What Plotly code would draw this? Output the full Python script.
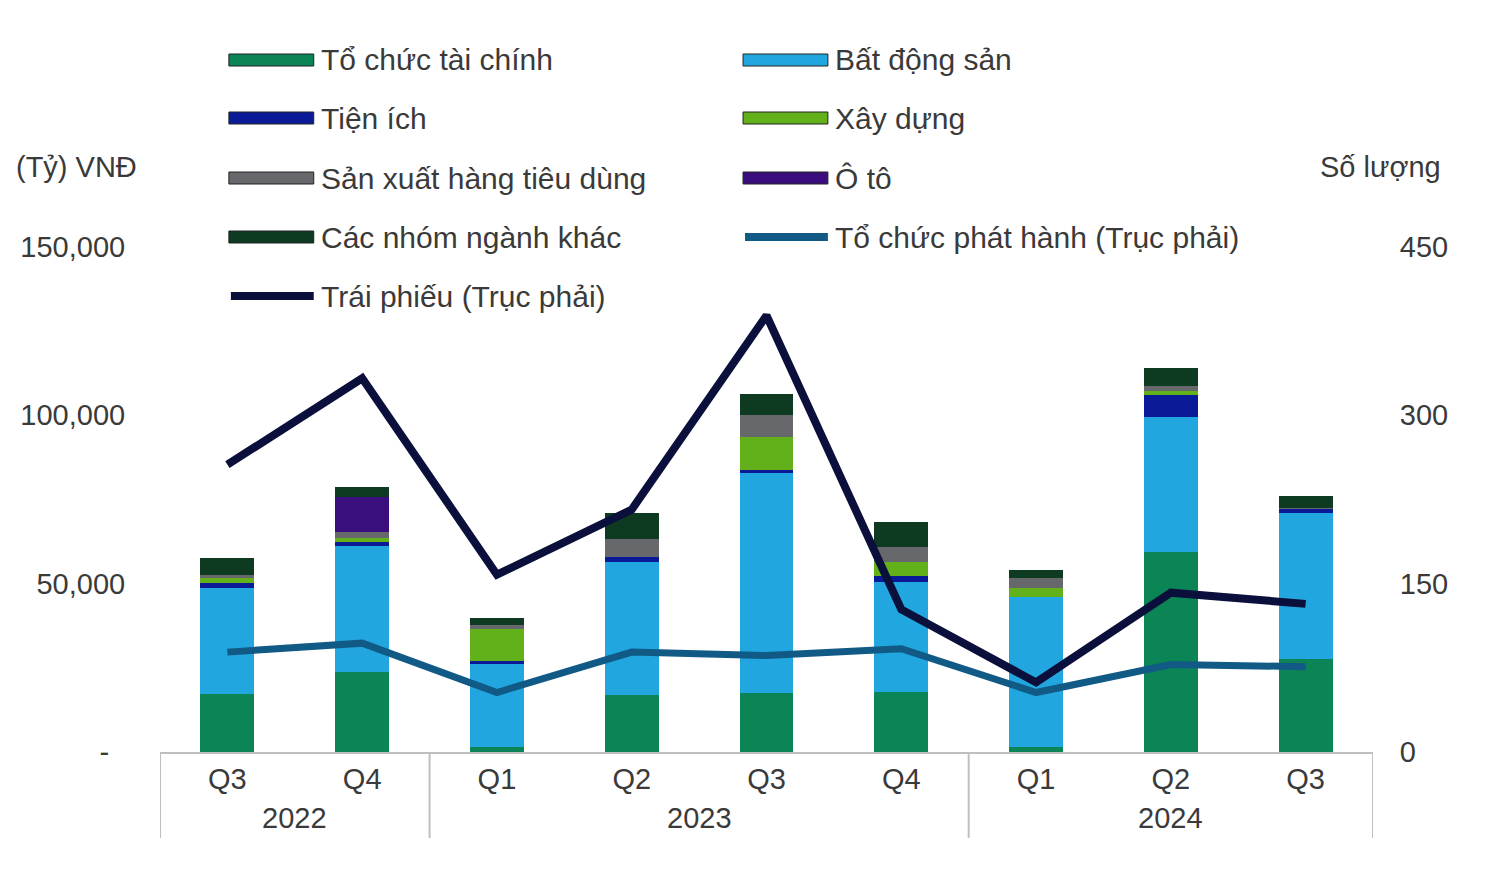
import plotly.graph_objects as go

# Dữ liệu (ước lượng từ hình)
periods = ["Q3 2022", "Q4 2022", "Q1 2023", "Q2 2023", "Q3 2023", "Q4 2023", "Q1 2024", "Q2 2024", "Q3 2024"]
quarters = ["Q3", "Q4", "Q1", "Q2", "Q3", "Q4", "Q1", "Q2", "Q3"]
year_labels = ["2022", "2023", "2024"]
year_spans = [(0, 1), (2, 5), (6, 8)]

to_chuc_tai_chinh = [17200, 23800, 1500, 16900, 17500, 17800, 1500, 59400, 27600]
bat_dong_san = [31500, 37400, 24700, 39500, 65300, 32700, 44600, 40100, 43400]
tien_ich = [1500, 1200, 900, 1500, 900, 1800, 0, 6500, 1200]
xay_dung = [1500, 1200, 9500, 0, 9800, 4200, 2700, 1200, 0]
san_xuat_htd = [900, 1800, 1200, 5300, 6500, 4500, 3000, 1500, 300]
o_to = [0, 10400, 0, 0, 0, 0, 0, 0, 0]
nganh_khac = [5000, 3000, 2000, 7700, 6200, 7400, 2400, 5300, 3600]

to_chuc_phat_hanh = [89, 97, 53, 89, 86, 92, 53, 78, 76]
trai_phieu = [256, 333, 158, 216, 389, 127, 62, 142, 132]

y_tickvals = [0, 50000, 100000, 150000]
y_ticktext = ["-\u00a0\u00a0", "50,000", "100,000", "150,000"]
y2_tickvals = [0, 150, 300, 450]

bar_series = [
    ("Tổ chức tài chính", to_chuc_tai_chinh, "#0B8456"),
    ("Bất động sản", bat_dong_san, "#22A6DF"),
    ("Tiện ích", tien_ich, "#0A1A96"),
    ("Xây dựng", xay_dung, "#62B01A"),
    ("Sản xuất hàng tiêu dùng", san_xuat_htd, "#66686B"),
    ("Ô tô", o_to, "#3A0E7D"),
    ("Các nhóm ngành khác", nganh_khac, "#0E3A22"),
]
line_series = [
    ("Tổ chức phát hành (Trục phải)", to_chuc_phat_hanh, "#115A86", 7),
    ("Trái phiếu (Trục phải)", trai_phieu, "#0B0F3B", 8),
]

FONT = "Liberation Sans, Arial, sans-serif"
TXT = "#3a3a3a"
GRID = "#BFBFBF"

# Kích thước (trang có lề body 8px)
OFF = 8
W, H = 1481, 872
L, R, T, B = 150, 116, 239, 128
PW, PH = W - L - R, H - T - B

fig = go.Figure()

for name, vals, color in bar_series:
    fig.add_trace(go.Bar(x=periods, y=vals, name=name, marker=dict(color=color, line=dict(width=0)),
                         showlegend=False))

for name, vals, color, width in line_series:
    fig.add_trace(go.Scatter(x=periods, y=vals, name=name, mode="lines", yaxis="y2",
                             line=dict(color=color, width=width), showlegend=False))


def px_x(p):
    return (p - OFF - L) / PW


def px_y(p):
    return (H - B - (p - OFF)) / PH


# Chú thích (legend) tự vẽ: 2 cột
entries = [(n, c, "bar") for n, _, c in bar_series] + [(n, c, "line") for n, _, c, _ in line_series]
col_x = [227, 742]
row_y = [60, 118, 178, 237, 296]
shapes = []
annotations = []
for i, (name, color, kind) in enumerate(entries):
    cx = col_x[i % 2]
    cy = row_y[i // 2]
    if kind == "bar":
        shapes.append(dict(type="rect", xref="paper", yref="paper",
                           x0=px_x(cx), x1=px_x(cx + 85), y0=px_y(cy + 6), y1=px_y(cy - 6),
                           fillcolor=color, line=dict(color="#222222", width=1)))
    else:
        shapes.append(dict(type="line", xref="paper", yref="paper",
                           x0=px_x(cx + 2), x1=px_x(cx + 85), y0=px_y(cy), y1=px_y(cy),
                           line=dict(color=color, width=8)))
    annotations.append(dict(text=name, xref="paper", yref="paper", x=px_x(cx + 90), y=px_y(cy),
                            xanchor="left", yanchor="middle", showarrow=False,
                            font=dict(size=30, color=TXT, family=FONT)))

# Tên trục
annotations.append(dict(text="(Tỷ) VNĐ", xref="paper", yref="paper", x=px_x(12), y=px_y(167),
                        xanchor="left", yanchor="middle", showarrow=False,
                        font=dict(size=29, color=TXT, family=FONT)))
annotations.append(dict(text="Số lượng", xref="paper", yref="paper", x=px_x(1443), y=px_y(167),
                        xanchor="right", yanchor="middle", showarrow=False,
                        font=dict(size=29, color=TXT, family=FONT)))

# Nhãn năm và vạch chia nhóm
for label, (a, b) in zip(year_labels, year_spans):
    annotations.append(dict(text=label, xref="x", yref="paper", x=(a + b) / 2, y=px_y(818),
                            xanchor="center", yanchor="middle", showarrow=False,
                            font=dict(size=29, color=TXT, family=FONT)))
for a, b in year_spans:
    shapes.append(dict(type="line", xref="x", yref="paper", x0=a - 0.5, x1=a - 0.5,
                       y0=0, y1=px_y(838), line=dict(color=GRID, width=2)))
shapes.append(dict(type="line", xref="x", yref="paper", x0=year_spans[-1][1] + 0.5,
                   x1=year_spans[-1][1] + 0.5, y0=0, y1=px_y(838), line=dict(color=GRID, width=2)))

fig.update_layout(
    width=W, height=H,
    margin=dict(l=L, r=R, t=T, b=B),
    barmode="stack",
    bargap=0.6,
    plot_bgcolor="white",
    paper_bgcolor="white",
    font=dict(family=FONT, size=29, color=TXT),
    shapes=shapes,
    annotations=annotations,
    xaxis=dict(
        type="category", range=[-0.5, len(periods) - 0.5],
        tickvals=periods, ticktext=quarters,
        showline=True, linecolor=GRID, linewidth=2,
        showgrid=False, ticks="",
        tickfont=dict(size=29, color=TXT, family=FONT),
    ),
    yaxis=dict(
        range=[0, 150000], tickvals=y_tickvals, ticktext=y_ticktext,
        showgrid=False, zeroline=False, showline=False,
        ticks="outside", ticklen=28, tickcolor="rgba(0,0,0,0)",
        tickfont=dict(size=29, color=TXT, family=FONT),
    ),
    yaxis2=dict(
        overlaying="y", side="right", range=[0, 450], tickvals=y2_tickvals,
        showgrid=False, zeroline=False, showline=False,
        ticks="outside", ticklen=20, tickcolor="rgba(0,0,0,0)",
        tickfont=dict(size=29, color=TXT, family=FONT),
    ),
)

fig.write_html("out.html")
